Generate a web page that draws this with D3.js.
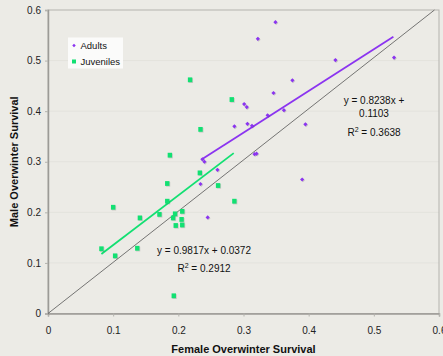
<!DOCTYPE html>
<html>
<head>
<meta charset="utf-8">
<script src="https://cdn.jsdelivr.net/npm/d3@7/dist/d3.min.js"></script>
<style>
  html, body { margin: 0; padding: 0; background: #ecebe6; }
  svg { display: block; font-family: "Liberation Sans", Arial, sans-serif; }
  .tick-label { font-size: 10px; fill: #222; }
  .axis-title { font-size: 11px; font-weight: bold; fill: #111; }
  .eq-label { font-size: 10px; fill: #111; }
  .legend-label { font-size: 9.5px; fill: #111; }
</style>
</head>
<body>
<div id="chart"></div>
<script>
// [female survival, male survival]
const adults = [
  [0.349, 0.576], [0.322, 0.543], [0.375, 0.461], [0.346, 0.436],
  [0.301, 0.414], [0.305, 0.408], [0.362, 0.402], [0.337, 0.392],
  [0.441, 0.501], [0.531, 0.506], [0.286, 0.370], [0.306, 0.375],
  [0.313, 0.371], [0.237, 0.305], [0.240, 0.300], [0.317, 0.315],
  [0.320, 0.316], [0.260, 0.284], [0.234, 0.256], [0.245, 0.190],
  [0.395, 0.374], [0.390, 0.265]
];
const juveniles = [
  [0.218, 0.462], [0.282, 0.423], [0.100, 0.210], [0.141, 0.189],
  [0.082, 0.128], [0.103, 0.114], [0.137, 0.129], [0.193, 0.035],
  [0.234, 0.364], [0.187, 0.313], [0.233, 0.278], [0.183, 0.257],
  [0.261, 0.253], [0.183, 0.222], [0.286, 0.222], [0.171, 0.196],
  [0.195, 0.197], [0.206, 0.202], [0.192, 0.189], [0.205, 0.186],
  [0.196, 0.174], [0.206, 0.175]
];
// trend lines: slope, intercept, x extent
const adultFit = { slope: 0.8238, intercept: 0.1103, from: 0.235, to: 0.530 };
const juvenileFit = { slope: 0.9817, intercept: 0.0372, from: 0.082, to: 0.285 };
const adultEq = ["y = 0.8238x +", "0.1103", "0.3638"];
const juvenileEq = ["y = 0.9817x + 0.0372", "0.2912"];
const ticks = [0, 0.1, 0.2, 0.3, 0.4, 0.5, 0.6];
const tickLabels = ["0", "0.1", "0.2", "0.3", "0.4", "0.5", "0.6"];
const seriesNames = ["Adults", "Juveniles"];

const W = 443, H = 356;
const PURPLE = "#8b34f0", GREEN = "#12e072";

function draw() {
  const svg = d3.select("#chart").append("svg")
    .attr("width", W).attr("height", H);

  const x = d3.scaleLinear().domain([0, 0.6]).range([48, 439]);
  const y = d3.scaleLinear().domain([0, 0.6]).range([313.5, 10]);

  // faint grid
  svg.append("g").selectAll("line")
    .data(ticks.slice(1, -1))
    .join("line")
    .attr("x1", x(0)).attr("x2", x(0.6))
    .attr("y1", d => y(d)).attr("y2", d => y(d))
    .attr("stroke", "#e3e2dd").attr("stroke-width", 1);

  // frame
  svg.append("rect")
    .attr("x", x(0)).attr("y", y(0.6))
    .attr("width", x(0.6) - x(0)).attr("height", y(0) - y(0.6))
    .attr("fill", "none").attr("stroke", "#b4b3ae").attr("stroke-width", 1);

  // axes
  const xAxis = svg.append("g").attr("transform", `translate(0,${y(0)})`)
    .call(d3.axisBottom(x).tickValues(ticks).tickSize(3).tickPadding(10)
      .tickFormat((d, i) => tickLabels[i]));
  const yAxis = svg.append("g").attr("transform", `translate(${x(0)},0)`)
    .call(d3.axisLeft(y).tickValues(ticks).tickSize(3).tickPadding(4)
      .tickFormat((d, i) => tickLabels[i]));
  [xAxis, yAxis].forEach(g => {
    g.attr("font-family", null).attr("font-size", null);
    g.select(".domain").attr("stroke", "#9c9b97").attr("stroke-width", 1.5);
    g.selectAll(".tick line").attr("stroke", "#b4b3ae");
    g.selectAll(".tick text").attr("class", "tick-label");
  });

  // 1:1 line
  svg.append("line")
    .attr("x1", x(0)).attr("y1", y(0))
    .attr("x2", x(0.593)).attr("y2", y(0.6))
    .attr("stroke", "#555").attr("stroke-width", 0.8);

  // trend lines
  [[adultFit, PURPLE], [juvenileFit, GREEN]].forEach(([f, c]) => {
    svg.append("line")
      .attr("x1", x(f.from)).attr("y1", y(f.slope * f.from + f.intercept))
      .attr("x2", x(f.to)).attr("y2", y(f.slope * f.to + f.intercept))
      .attr("stroke", c).attr("stroke-width", 1.8);
  });

  const diamond = d3.symbol().type(d3.symbolDiamond2).size(11);

  // points, with a light shadow
  const pts = svg.append("g");
  pts.selectAll(".adult-shadow").data(adults).join("path")
    .attr("d", diamond)
    .attr("transform", d => `translate(${x(d[0]) + 0.8},${y(d[1]) + 0.8})`)
    .attr("fill", "#000").attr("opacity", 0.15);
  pts.selectAll(".juv-shadow").data(juveniles).join("rect")
    .attr("x", d => x(d[0]) - 2.2 + 0.8).attr("y", d => y(d[1]) - 2.4 + 0.8)
    .attr("width", 4.4).attr("height", 4.8)
    .attr("fill", "#000").attr("opacity", 0.15);
  pts.selectAll(".adult").data(adults).join("path")
    .attr("class", "adult")
    .attr("d", diamond)
    .attr("transform", d => `translate(${x(d[0])},${y(d[1])})`)
    .attr("fill", PURPLE);
  pts.selectAll(".juv").data(juveniles).join("rect")
    .attr("class", "juv")
    .attr("x", d => x(d[0]) - 2.2).attr("y", d => y(d[1]) - 2.4)
    .attr("width", 4.4).attr("height", 4.8)
    .attr("fill", GREEN);

  // equations
  const eqA = svg.append("text").attr("class", "eq-label").attr("text-anchor", "middle");
  eqA.append("tspan").attr("x", 374).attr("y", 104).text(adultEq[0]);
  eqA.append("tspan").attr("x", 374).attr("y", 117).text(adultEq[1]);
  const r2a = svg.append("text").attr("class", "eq-label").attr("text-anchor", "middle")
    .attr("x", 374).attr("y", 136);
  r2a.append("tspan").text("R");
  r2a.append("tspan").attr("dy", -4).attr("font-size", 7).text("2");
  r2a.append("tspan").attr("dy", 4).text(" = " + adultEq[2]);

  svg.append("text").attr("class", "eq-label").attr("text-anchor", "middle")
    .attr("x", 204).attr("y", 254).text(juvenileEq[0]);
  const r2j = svg.append("text").attr("class", "eq-label").attr("text-anchor", "middle")
    .attr("x", 204).attr("y", 272);
  r2j.append("tspan").text("R");
  r2j.append("tspan").attr("dy", -4).attr("font-size", 7).text("2");
  r2j.append("tspan").attr("dy", 4).text(" = " + juvenileEq[1]);

  // legend
  const legend = svg.append("g");
  legend.append("rect")
    .attr("x", 68).attr("y", 37.5).attr("width", 55).attr("height", 31)
    .attr("fill", "#fbfbfa");
  legend.append("path").attr("d", d3.symbol().type(d3.symbolDiamond2).size(8))
    .attr("transform", "translate(74,45.5)").attr("fill", PURPLE);
  legend.append("rect").attr("x", 72).attr("y", 59.5).attr("width", 4).attr("height", 4)
    .attr("fill", GREEN);
  legend.selectAll("text.legend-label").data(seriesNames).join("text")
    .attr("class", "legend-label")
    .attr("x", 80.5).attr("y", (d, i) => 49 + i * 16)
    .text(d => d);

  // axis titles
  svg.append("text").attr("class", "axis-title").attr("text-anchor", "middle")
    .attr("x", (x(0) + x(0.6)) / 2).attr("y", 353)
    .text("Female Overwinter Survival");
  svg.append("text").attr("class", "axis-title").attr("text-anchor", "middle")
    .attr("transform", `translate(18,${(y(0) + y(0.6)) / 2}) rotate(-90)`)
    .text("Male Overwinter Survival");
}

document.addEventListener("DOMContentLoaded", draw);
</script>
</body>
</html>
